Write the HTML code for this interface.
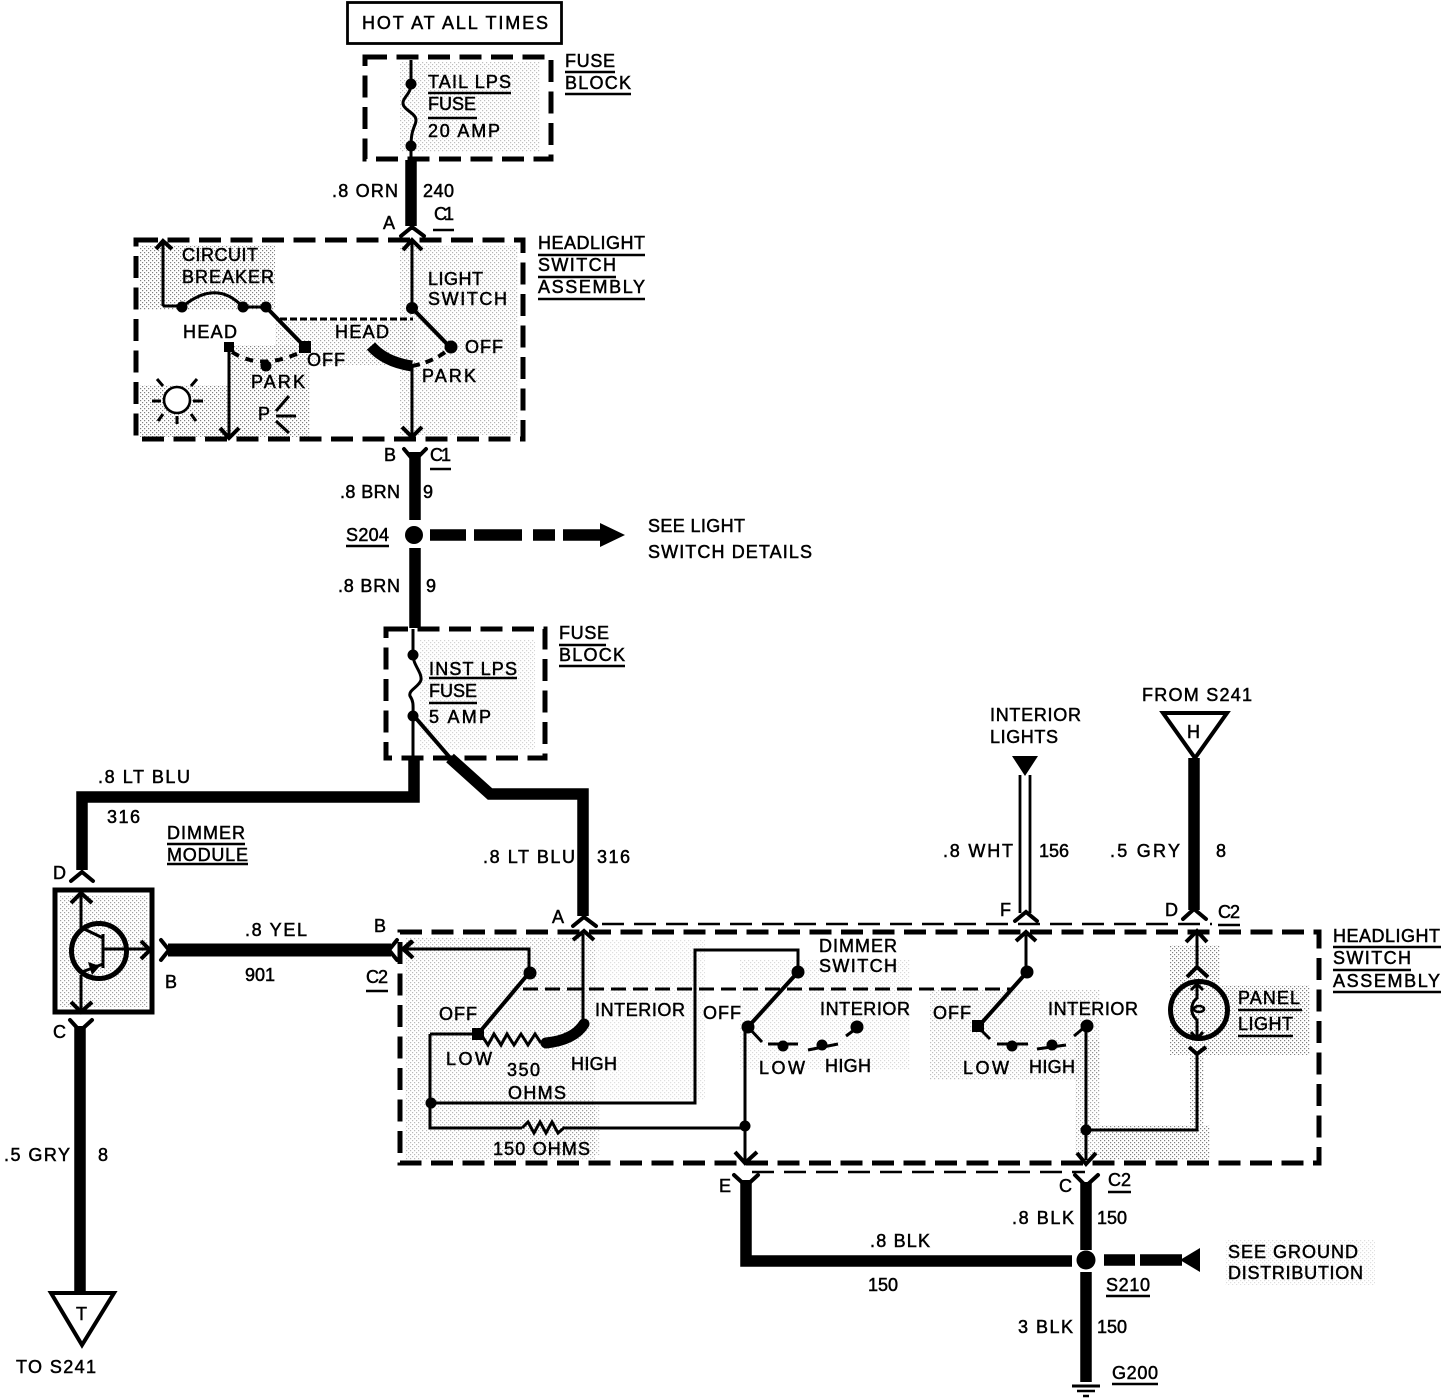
<!DOCTYPE html>
<html><head><meta charset="utf-8"><style>
html,body{margin:0;padding:0;background:#fff}
svg{display:block}
text{font-family:"Liberation Sans",sans-serif;font-size:18px;fill:#000;stroke:#000;stroke-width:.5px}
.t{fill:none;stroke:#000;stroke-width:3}
.m{fill:none;stroke:#000;stroke-width:4}
.k{fill:none;stroke:#000;stroke-width:11.5}
.d{fill:none;stroke:#000;stroke-width:5;stroke-dasharray:22 9.5}
.l{fill:none;stroke:#000;stroke-width:2.5;stroke-dasharray:22 10}
.u{fill:none;stroke:#000;stroke-width:2.4}
.s{fill:url(#st);stroke:none}
</style></head><body>
<svg width="1456" height="1398" viewBox="0 0 1456 1398" xmlns="http://www.w3.org/2000/svg">
<defs><pattern id="st" width="4" height="4" patternUnits="userSpaceOnUse"><rect x="0" y="0" width="1.2" height="1.2" fill="#000"/><rect x="2" y="2" width="1.2" height="1.2" fill="#000"/></pattern></defs>
<rect width="1456" height="1398" fill="#fff"/>

<!-- stipple -->
<g class="s" opacity=".5">
<rect x="400" y="62" width="140" height="90" opacity=".5"/>
<rect x="140" y="245" width="135" height="65"/>
<rect x="140" y="385" width="90" height="52"/>
<rect x="230" y="345" width="80" height="92"/>
<rect x="400" y="245" width="118" height="190" opacity=".6"/>
<rect x="275" y="320" width="140" height="45" opacity=".7"/>
<rect x="420" y="640" width="115" height="110" opacity=".35"/>
<rect x="60" y="895" width="88" height="112" opacity=".75"/>
<rect x="405" y="938" width="190" height="222" opacity=".55"/>
<rect x="595" y="940" width="110" height="160" opacity=".25"/>
<rect x="740" y="960" width="170" height="110" opacity=".3"/>
<rect x="930" y="990" width="170" height="90" opacity=".5"/>
<rect x="1075" y="1040" width="25" height="115" opacity=".7"/>
<rect x="1100" y="1125" width="110" height="35"/>
<rect x="1170" y="945" width="50" height="40"/>
<rect x="1170" y="985" width="140" height="70"/>
<rect x="1190" y="1055" width="14" height="70"/>
<rect x="500" y="1105" width="100" height="50" opacity=".5"/>
<rect x="1225" y="1240" width="150" height="45" opacity=".25"/>
</g>

<!-- frames -->
<rect x="347.5" y="2.5" width="214" height="41" fill="none" stroke="#000" stroke-width="2.8"/>
<rect x="365" y="57" width="186" height="102" class="d"/>
<rect x="136" y="240" width="387" height="199" class="d"/>
<rect x="386" y="629" width="159" height="129" class="d"/>
<rect x="400" y="932" width="919" height="231" class="d"/>
<path class="l" d="M602 924H1212M752 1172H1085"/>
<rect x="55" y="890" width="97" height="122" fill="none" stroke="#000" stroke-width="5"/>

<!-- heavy wires -->
<path class="k" d="M411 160V226M415 452V520M415 548V628"/>
<path class="k" d="M414 758V797H82V870"/>
<path class="k" d="M450 758L490 794H583V916"/>
<path class="k" d="M80 1026V1294"/>
<path class="k" d="M1194 758V910"/>
<path class="k" d="M746 1180V1261H1072"/>
<path class="k" d="M1086 1182V1250M1086 1272V1382"/>
<path class="k" d="M168 950H391" style="stroke-width:13"/>
<path class="k" d="M430 535H466M474 535H522M533 535H555M563 535H602"/>
<path class="k" d="M1104 1260H1135M1140 1260H1182"/>
<polygon points="600,523 625,535 600,547"/>
<polygon points="1180,1260 1200,1248 1200,1272"/>
<circle cx="414" cy="535" r="9"/>
<circle cx="1086" cy="1260" r="9.5"/>
<path d="M1020 775V913M1030 775V913" class="m" style="stroke-width:2.8"/>
<polygon points="1012,756 1038,756 1025,776"/>
<polygon points="1163,713 1227,713 1195,758" fill="#fff" stroke="#000" stroke-width="4"/>
<polygon points="51,1293 114,1293 82,1345" fill="#fff" stroke="#000" stroke-width="4"/>
<path class="m" d="M1072 1386H1100" style="stroke-width:3"/><path class="u" d="M1077 1391H1095M1083 1396H1089"/>

<!-- connector chevrons -->
<path class="m" stroke-linecap="round" d="M401 236L412 227L424 236M404 449L414 461L426 449M573 926L584 917L596 926M1015 921L1026 912L1037 921M1183 919L1194 909L1206 919M71 881L82 872L93 881M70 1020L80 1031L92 1020M734 1175L746 1186L758 1175M1075 1175L1086 1186L1098 1175M161 940L169 950L161 960M397 940L389 950L397 960"/>
<path class="m" stroke-width="3" d="M403 250L412 240L422 250M156 249L163 241L172 249M573 940L584 931L594 940M1016 941L1026 932L1036 941M1186 942L1197 931L1207 942M220 428L229 438L239 428M402 427L412 437L422 427M735 1152L745 1163L757 1152M1077 1153L1086 1164L1096 1153M412 957L403 949L412 941M71 903L81 893L92 903M71 1002L81 1012L92 1002M141 941L150 950L141 959M1187 977L1197 967L1208 977M1189 1047L1197 1054L1206 1047"/>

<!-- upper fuse -->
<path class="t" d="M411 60V84M411 84C411 94 403 97 403 103C403 110 416 113 416 120C416 126 411 128 411 146V160"/>
<circle cx="411" cy="84" r="5.5"/><circle cx="411" cy="146" r="5.5"/>

<!-- headlight switch 1 -->
<path class="t" d="M163 306V243M163 306H182M182 307C205 288 225 288 243 307M243 307H266M229 348V437M412 240V308M412 366V436"/>
<path class="t" stroke-dasharray="7 3" d="M280 319H413"/>
<path class="m" d="M266 307L305 347M412 308L450 347"/>
<path class="m" stroke-dasharray="8 7" d="M232 352Q262 372 305 350"/>
<path class="m" stroke-dasharray="8 6" d="M412 366Q433 362 448 350"/>
<path fill="none" stroke="#000" stroke-width="11" d="M371 346Q385 362 412 366"/>
<circle cx="182" cy="307" r="5.5"/><circle cx="243" cy="307" r="5.5"/><circle cx="266" cy="307" r="5.5"/>
<rect x="299" y="341" width="12" height="12"/><rect x="224" y="342" width="10" height="10"/>
<circle cx="266" cy="366" r="5.5"/><circle cx="412" cy="308" r="6"/><circle cx="451" cy="347" r="6.5"/>
<!-- lamp -->
<circle cx="177" cy="400" r="13" fill="#fff" stroke="#000" stroke-width="2.6"/>
<path class="t" d="M152 401H161M193 401H203M163 386L157 379M191 386L197 379M163 414L158 421M191 414L196 421M177 416V424"/>
<path class="t" d="M276 411L289 396M276 416H296M276 421L289 433"/>

<!-- lower fuse -->
<path class="t" d="M413 629V655C413 665 422 672 421 680C419 687 408 690 410 696C414 702 413 706 413 716V758"/>
<path class="m" d="M414 716L452 760"/>
<circle cx="413" cy="655" r="5.5"/><circle cx="413" cy="716" r="5.5"/>

<!-- dimmer module -->
<circle cx="99" cy="951" r="27.5" fill="none" stroke="#000" stroke-width="5"/>
<path class="t" style="stroke-width:3" d="M81 895V928M81 975V1010M103 934V968M103 949H150M103 938L82 928M103 964L82 972"/>
<polygon points="88,962 92,975 100,966"/>

<!-- dimmer left switch -->
<path class="m" style="stroke-width:3" d="M406 949H529V973M583 934V1020M430 1034H478M430 1034V1128H522M431 1103H695V950H798V970M565 1128H745M745 1030V1160M1086 1028V1160M1086 1130H1197V1054"/>
<path class="m" stroke-width="3" d="M413 941L404 949L413 958"/>
<path class="t" stroke-dasharray="15 7" d="M523 989H1012"/>
<path class="m" d="M529 973L478 1034M798 972L748 1027M1027 972L978 1027"/>
<path fill="none" stroke="#000" stroke-width="3" d="M482 1036L488 1045L494 1034L501 1045L507 1034L514 1045L521 1034L528 1045L535 1034L541 1043M522 1128L528 1122L534 1133L540 1122L546 1133L552 1122L558 1133L565 1127"/>
<path fill="none" stroke="#000" stroke-width="11" stroke-linecap="round" d="M546 1043Q574 1040 584 1024"/>
<circle cx="530" cy="973" r="6.5"/><rect x="472" y="1028" width="12" height="12"/>
<circle cx="431" cy="1103" r="5.5"/><circle cx="798" cy="972" r="6.5"/><circle cx="748" cy="1027" r="6.5"/><circle cx="745" cy="1126" r="5.5"/>
<path class="t" style="stroke-width:3" d="M748 1027L762 1042M768 1044H798M808 1050L838 1044M846 1036L857 1028"/>
<circle cx="783" cy="1046" r="5.5"/><circle cx="822" cy="1045" r="5.5"/><circle cx="857" cy="1027" r="6.5"/>
<path class="t" style="stroke-width:3" d="M978 1027L990 1039M997 1044H1028M1037 1049L1066 1045M1074 1036L1086 1026"/>
<rect x="972" y="1020" width="12" height="12"/><circle cx="1027" cy="972" r="6.5"/>
<circle cx="1012" cy="1046" r="5.5"/><circle cx="1052" cy="1045" r="5.5"/><circle cx="1087" cy="1026" r="6.5"/><circle cx="1086" cy="1130" r="5.5"/>
<path class="m" style="stroke-width:3" d="M1026 935V972M1197 934V968"/>
<circle cx="1199" cy="1010" r="28.5" fill="none" stroke="#000" stroke-width="5"/>
<path class="t" style="stroke-width:3" d="M1197 985V998C1190 1004 1190 1014 1197 1020V1038M1191 990L1197 984L1203 990M1191 1032L1197 1039L1203 1032"/>
<ellipse cx="1199" cy="1009" rx="5" ry="3" fill="none" stroke="#000" stroke-width="2.6"/>

<!-- text -->
<g>
<text x="362" y="29" textLength="186">HOT AT ALL TIMES</text>
<text x="565" y="67" textLength="50">FUSE</text><text x="565" y="89" textLength="66">BLOCK</text>
<text x="428" y="88" textLength="83">TAIL LPS</text><text x="428" y="110" textLength="48">FUSE</text><text x="428" y="137" textLength="72">20 AMP</text>
<text x="332" y="197" textLength="66">.8 ORN</text><text x="423" y="197" textLength="31">240</text>
<text x="383" y="229" textLength="12">A</text><text x="434" y="220" textLength="20">C1</text>
<text x="538" y="249" textLength="107">HEADLIGHT</text><text x="538" y="271" textLength="78">SWITCH</text><text x="538" y="293" textLength="107">ASSEMBLY</text>
<text x="182" y="261" textLength="76">CIRCUIT</text><text x="182" y="283" textLength="92">BREAKER</text>
<text x="428" y="285" textLength="55">LIGHT</text><text x="428" y="305" textLength="79">SWITCH</text>
<text x="183" y="338" textLength="54">HEAD</text><text x="335" y="338" textLength="54">HEAD</text>
<text x="307" y="366" textLength="38">OFF</text><text x="465" y="353" textLength="38">OFF</text>
<text x="251" y="388" textLength="54">PARK</text><text x="422" y="382" textLength="54">PARK</text>
<text x="258" y="420" textLength="12">P</text>
<text x="384" y="461" textLength="12">B</text><text x="430" y="461" textLength="21">C1</text>
<text x="340" y="498" textLength="60">.8 BRN</text><text x="423" y="498" textLength="10">9</text>
<text x="346" y="541" textLength="43">S204</text>
<text x="648" y="532" textLength="97">SEE LIGHT</text><text x="648" y="558" textLength="164">SWITCH DETAILS</text>
<text x="338" y="592" textLength="62">.8 BRN</text><text x="426" y="592" textLength="10">9</text>
<text x="559" y="639" textLength="50">FUSE</text><text x="559" y="661" textLength="66">BLOCK</text>
<text x="429" y="675" textLength="88">INST LPS</text><text x="429" y="697" textLength="48">FUSE</text><text x="429" y="723" textLength="62">5 AMP</text>
<text x="98" y="783" textLength="92">.8 LT BLU</text><text x="107" y="823" textLength="33">316</text>
<text x="167" y="839" textLength="78">DIMMER</text><text x="167" y="861" textLength="81">MODULE</text>
<text x="483" y="863" textLength="92">.8 LT BLU</text><text x="597" y="863" textLength="33">316</text>
<text x="53" y="879" textLength="13">D</text><text x="165" y="988" textLength="12">B</text><text x="53" y="1038" textLength="12">C</text>
<text x="245" y="936" textLength="62">.8 YEL</text><text x="245" y="981" textLength="30">901</text>
<text x="374" y="932" textLength="12">B</text><text x="366" y="983" textLength="22">C2</text>
<text x="552" y="923" textLength="12">A</text><text x="1000" y="916" textLength="12">F</text><text x="1165" y="916" textLength="12">D</text><text x="1218" y="918" textLength="22">C2</text>
<text x="819" y="952" textLength="78">DIMMER</text><text x="819" y="972" textLength="78">SWITCH</text>
<text x="595" y="1016" textLength="90">INTERIOR</text><text x="439" y="1020" textLength="38">OFF</text>
<text x="703" y="1019" textLength="38">OFF</text><text x="820" y="1015" textLength="90">INTERIOR</text>
<text x="933" y="1019" textLength="38">OFF</text><text x="1048" y="1015" textLength="90">INTERIOR</text>
<text x="446" y="1065" textLength="46">LOW</text><text x="507" y="1076" textLength="33">350</text><text x="508" y="1099" textLength="58">OHMS</text><text x="571" y="1070" textLength="46">HIGH</text>
<text x="759" y="1074" textLength="46">LOW</text><text x="825" y="1072" textLength="46">HIGH</text>
<text x="963" y="1074" textLength="46">LOW</text><text x="1029" y="1073" textLength="46">HIGH</text>
<text x="493" y="1155" textLength="97">150 OHMS</text>
<text x="1238" y="1004" textLength="62">PANEL</text><text x="1238" y="1030" textLength="55">LIGHT</text>
<text x="1333" y="942" textLength="107">HEADLIGHT</text><text x="1333" y="964" textLength="78">SWITCH</text><text x="1333" y="987" textLength="107">ASSEMBLY</text>
<text x="943" y="857" textLength="70">.8 WHT</text><text x="1039" y="857" textLength="30">156</text>
<text x="1110" y="857" textLength="70">.5 GRY</text><text x="1216" y="857" textLength="10">8</text>
<text x="990" y="721" textLength="91">INTERIOR</text><text x="990" y="743" textLength="68">LIGHTS</text>
<text x="1142" y="701" textLength="110">FROM S241</text><text x="1187" y="738" textLength="14">H</text>
<text x="4" y="1161" textLength="66">.5 GRY</text><text x="98" y="1161" textLength="10">8</text>
<text x="76" y="1320" textLength="12">T</text><text x="16" y="1373" textLength="80">TO S241</text>
<text x="719" y="1192" textLength="12">E</text><text x="1059" y="1192" textLength="12">C</text><text x="1108" y="1186" textLength="23">C2</text>
<text x="1012" y="1224" textLength="62">.8 BLK</text><text x="1097" y="1224" textLength="30">150</text>
<text x="870" y="1247" textLength="60">.8 BLK</text><text x="868" y="1291" textLength="30">150</text>
<text x="1106" y="1291" textLength="44">S210</text>
<text x="1228" y="1258" textLength="130">SEE GROUND</text><text x="1228" y="1279" textLength="135">DISTRIBUTION</text>
<text x="1018" y="1333" textLength="55">3 BLK</text><text x="1097" y="1333" textLength="30">150</text>
<text x="1112" y="1379" textLength="46">G200</text>
</g>

<!-- underlines -->
<path class="u" d="M565 72H615M565 94H631M428 93H511M428 118H477M433 230H454M538 255H645M538 277H616M538 299H645M430 469H451M346 546H389M559 645H606M559 666H625M429 678H517M429 703H477M167 844H245M167 864H248M366 991H388M1218 925H1240M1238 1010H1302M1238 1036H1293M1333 947H1441M1333 970H1411M1333 992H1441M1108 1192H1131M1106 1296H1150M1112 1384H1158"/>
</svg>
</body></html>
